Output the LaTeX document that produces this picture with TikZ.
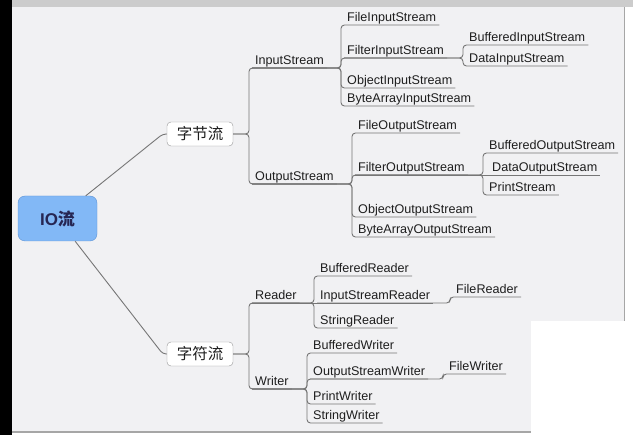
\documentclass[tikz,border=0pt]{standalone}
\usepackage{fontspec}
\setmainfont{Liberation Sans}
\newfontfamily\cjk{Noto Sans CJK SC}
\usetikzlibrary{positioning}
\definecolor{panelgray}{RGB}{241,241,243}
\definecolor{rootblue}{RGB}{130,184,246}
\definecolor{rootedge}{RGB}{92,146,212}
\definecolor{linkgray}{RGB}{118,118,118}
\definecolor{boxedge}{RGB}{150,150,150}
\definecolor{inkdark}{RGB}{30,30,30}

\begin{document}
\begin{tikzpicture}[x=1pt, y=-1pt,
    root/.style={rectangle, rounded corners=7pt, draw=rootedge, fill=rootblue, minimum width=79pt, minimum height=45pt, font=\fontsize{17}{19}\selectfont\bfseries, text=black!75!blue!70!gray},
    group/.style={rectangle, rounded corners=4pt, draw=boxedge, fill=white, minimum width=66pt, minimum height=24pt, inner sep=0pt, font=\cjk\fontsize{15.5}{17}\selectfont, text=inkdark},
    leaf/.style={anchor=south west, inner xsep=3pt, inner ysep=0pt, text height=9.5pt, text depth=3.5pt, font=\fontsize{12.6}{14}\selectfont, text=inkdark},
    link/.style={draw=linkgray, line width=0.9pt, rounded corners=3.5pt}
]
    \useasboundingbox (0,0) rectangle (633,435);

    % Screen frame
    \fill[white] (0,0) rectangle (633,435);
    \fill[black] (0,0) rectangle (12,435);
    \fill[panelgray] (12,7) rectangle (624,432);
    \fill[black!20] (12,0) rectangle (633,7);
    \draw[black!35] (624,7) -- (624,432);
    \draw[black!35, line width=1.5pt] (12,432) -- (624,432);
    \fill[white] (531,321) rectangle (633,435);

    % Root and groups
    \node[root] (io) at (57.5,218.5) {IO{\cjk 流}};
    \node[group] (bytes) at (200,134) {字节流};
    \node[group] (chars) at (200,354) {字符流};

    % Byte streams
    \node[leaf] (ins) at (252,68) {InputStream};
    \node[leaf] (outs) at (252,184) {OutputStream};

    \node[leaf] (fis) at (344,25) {FileInputStream};
    \node[leaf] (filis) at (344,58) {FilterInputStream};
    \node[leaf] (ois) at (344,88) {ObjectInputStream};
    \node[leaf] (bais) at (344,106) {ByteArrayInputStream};

    \node[leaf] (bis) at (466,45) {BufferedInputStream};
    \node[leaf] (dis) at (466,66) {DataInputStream};

    \node[leaf] (fos) at (355,133) {FileOutputStream};
    \node[leaf] (filos) at (355,175) {FilterOutputStream};
    \node[leaf] (oos) at (355,217) {ObjectOutputStream};
    \node[leaf] (baos) at (355,237) {ByteArrayOutputStream};

    \node[leaf] (bos) at (486,153) {BufferedOutputStream};
    \node[leaf] (dos) at (489,175) {DataOutputStream};
    \node[leaf] (ps) at (486,195) {PrintStream};

    % Character streams
    \node[leaf] (rdr) at (252,303) {Reader};
    \node[leaf] (wtr) at (252,389) {Writer};

    \node[leaf] (br) at (317,276) {BufferedReader};
    \node[leaf] (isr) at (317,303) {InputStreamReader};
    \node[leaf] (sr) at (317,328) {StringReader};
    \node[leaf] (fr) at (453,297) {FileReader};

    \node[leaf] (bw) at (310,353) {BufferedWriter};
    \node[leaf] (osw) at (310,379) {OutputStreamWriter};
    \node[leaf] (pw) at (310,404) {PrintWriter};
    \node[leaf] (sw) at (310,423) {StringWriter};
    \node[leaf] (fw) at (446,374) {FileWriter};

    % Links from the root
    \draw[link] (io) -- ([xshift=-4pt]bytes.west) -- (bytes.west);
    \draw[link] (io) -- ([xshift=-4pt]chars.west) -- (chars.west);

    % Brackets
    \foreach \c in {ins,outs}
        \draw[link] (bytes.east) -- ([xshift=-3pt]\c.south west |- bytes.east) |- (\c.south east);
    \foreach \c in {rdr,wtr}
        \draw[link] (chars.east) -- ([xshift=-3pt]\c.south west |- chars.east) |- (\c.south east);
    \foreach \c in {fis,filis,ois,bais}
        \draw[link] (ins.south west) -- ([xshift=-3pt]\c.south west |- ins.south west) |- (\c.south east);
    \foreach \c in {bis,dis}
        \draw[link] (filis.south west) -- ([xshift=-3pt]\c.south west |- filis.south west) |- (\c.south east);
    \foreach \c in {fos,filos,oos,baos}
        \draw[link] (outs.south west) -- ([xshift=-3pt]\c.south west |- outs.south west) |- (\c.south east);
    \foreach \c in {bos,ps}
        \draw[link] (filos.south west) -- ([xshift=-3pt]\c.south west |- filos.south west) |- (\c.south east);
    \draw[link] (filos.south west) -- (dos.south east);
    \foreach \c in {br,sr}
        \draw[link] (rdr.south west) -- ([xshift=-3pt]\c.south west |- rdr.south west) |- (\c.south east);
    \draw[link] (rdr.south west) -- (isr.south east);
    \draw[link] (isr.south west) -- ([xshift=-3pt]fr.south west |- isr.south west) |- (fr.south east);
    \foreach \c in {bw,osw,pw,sw}
        \draw[link] (wtr.south west) -- ([xshift=-3pt]\c.south west |- wtr.south west) |- (\c.south east);
    \draw[link] (osw.south west) -- ([xshift=-3pt]fw.south west |- osw.south west) |- (fw.south east);
\end{tikzpicture}
\end{document}
